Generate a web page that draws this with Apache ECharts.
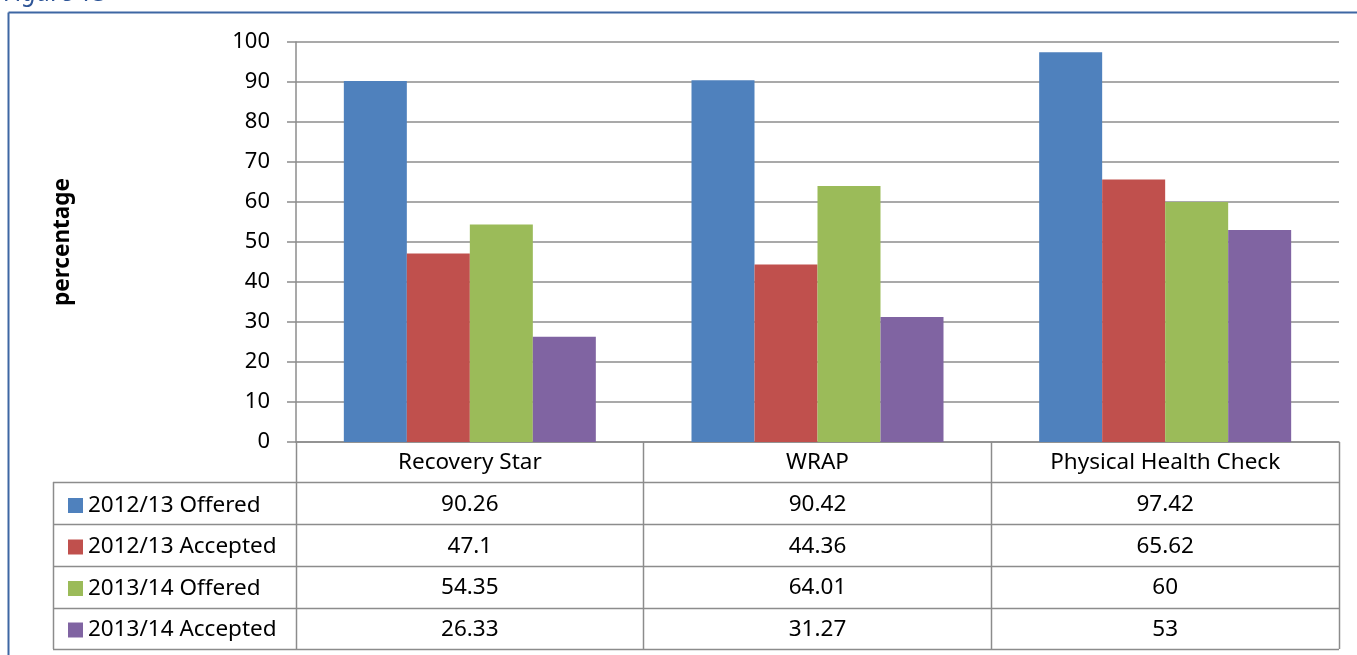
<!DOCTYPE html>
<html>
<head>
<meta charset="utf-8">
<script src="https://cdn.jsdelivr.net/npm/echarts@6/dist/echarts.min.js"></script>
<style>
  html, body { margin: 0; padding: 0; background: #fff; }
  #chart { width: 1357px; height: 655px; }
</style>
</head>
<body>
<div id="chart"></div>
<script>
// data
const categories = ["Recovery Star", "WRAP", "Physical Health Check"];
const seriesNames = ["2012/13 Offered", "2012/13 Accepted", "2013/14 Offered", "2013/14 Accepted"];
const offered1213 = [90.26, 90.42, 97.42];
const accepted1213 = [47.1, 44.36, 65.62];
const offered1314 = [54.35, 64.01, 60];
const accepted1314 = [26.33, 31.27, 53];
const yTicks = { min: 0, max: 100, interval: 10 };

const allValues = [offered1213, accepted1213, offered1314, accepted1314];
const colors = ["#4F81BD", "#C0504D", "#9BBB59", "#8064A2"];
const lineCol = "#8c8c8c";
const font = "Noto Sans";
const fs = 22.5;

const myChart = echarts.init(document.getElementById("chart"));

// table rows below the plot, one x axis per series
const rowAxes = allValues.map((vals, i) => ({
  type: "category",
  data: categories,
  position: "bottom",
  offset: 41.5 * (i + 1),
  axisLine: { show: false },
  axisTick: { show: false },
  axisLabel: {
    margin: 10,
    fontFamily: font,
    fontSize: fs,
    color: "#000",
    formatter: (v, idx) => String(vals[idx])
  }
}));

// table grid lines
const L = 53, X0 = 296, X3 = 1339;
const colX = [643, 991];
const rowY = [482, 524, 566, 608, 649];
const lines = [];
const hLine = (x1, x2, y) => lines.push({
  type: "line", shape: { x1: x1, y1: y + 0.5, x2: x2, y2: y + 0.5 },
  style: { stroke: lineCol, lineWidth: 1.5 }, silent: true
});
const vLine = (x, y1, y2) => lines.push({
  type: "line", shape: { x1: x + 0.5, y1: y1, x2: x + 0.5, y2: y2 },
  style: { stroke: lineCol, lineWidth: 1.5 }, silent: true
});
rowY.forEach(y => hLine(L, X3, y));
vLine(L, rowY[0], rowY[4]);
vLine(X0, 442, rowY[4]);
colX.forEach(x => vLine(x, 442, rowY[4]));
vLine(X3, 442, rowY[4]);

let option = {
  backgroundColor: "#fff",
  animation: false,
  textStyle: { fontFamily: font },
  grid: { left: 296, right: 18, top: 42, bottom: 213, containLabel: false },
  legend: {
    orient: "vertical",
    left: 63,
    top: 489,
    itemWidth: 15,
    itemHeight: 15,
    itemGap: 18.5,
    icon: "rect",
    data: seriesNames,
    textStyle: { fontFamily: font, fontSize: fs, color: "#000", lineHeight: 23 }
  },
  xAxis: [
    {
      type: "category",
      data: categories,
      axisLine: { show: true, lineStyle: { color: lineCol, width: 1.5 } },
      axisTick: { show: false },
      axisLabel: { margin: 9, fontFamily: font, fontSize: fs, color: "#000" }
    }
  ].concat(rowAxes),
  yAxis: {
    type: "value",
    min: yTicks.min,
    max: yTicks.max,
    interval: yTicks.interval,
    name: "percentage",
    nameLocation: "middle",
    nameRotate: 90,
    nameGap: 222,
    nameTextStyle: { fontFamily: font, fontSize: 22.5, fontWeight: "bold", color: "#000" },
    axisLine: { show: true, lineStyle: { color: lineCol, width: 1.5 } },
    axisTick: { show: true, length: 9, lineStyle: { color: lineCol, width: 1.5 } },
    axisLabel: { margin: 26, fontFamily: font, fontSize: 22, color: "#000" },
    splitLine: { lineStyle: { color: lineCol, width: 1.5 } }
  },
  series: allValues.map((vals, i) => ({
    name: seriesNames[i],
    type: "bar",
    xAxisIndex: 0,
    data: vals,
    barWidth: 63,
    barGap: "0%",
    itemStyle: { color: colors[i] }
  })),
  graphic: [
    // outer frame of the figure
    { type: "line", shape: { x1: 8.5, y1: 12.5, x2: 1357, y2: 12.5 }, style: { stroke: "#3e67a3", lineWidth: 2 }, silent: true },
    { type: "line", shape: { x1: 8.5, y1: 12.5, x2: 8.5, y2: 655 }, style: { stroke: "#3e67a3", lineWidth: 2 }, silent: true },
    {
      type: "text", left: 4, top: -19,
      style: { text: "Figure 13", font: "italic 25px 'Noto Sans'", fill: "#2e5597" }
    }
  ].concat(lines)
};

myChart.setOption(option);
</script>
</body>
</html>
